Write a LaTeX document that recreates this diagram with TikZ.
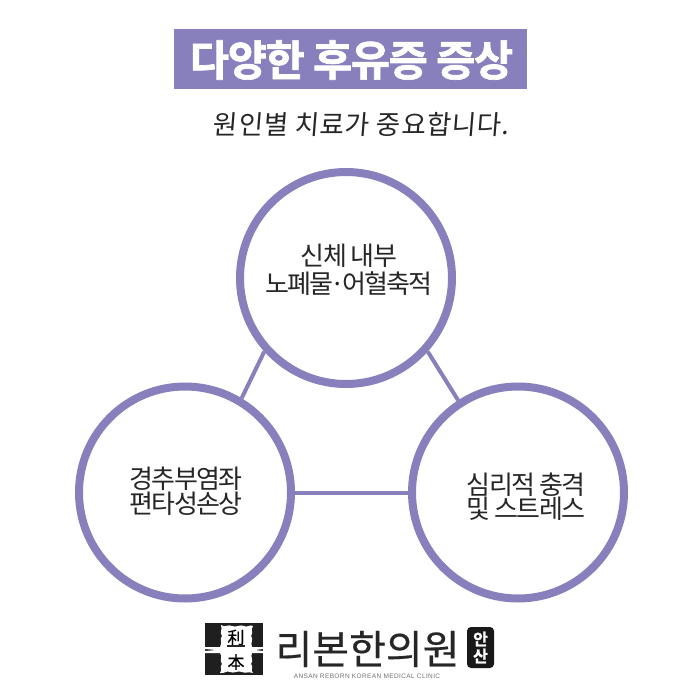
\documentclass[tikz,border=0pt]{standalone}
\usepackage{fontspec}
\setmainfont{Noto Sans CJK KR}
\newfontfamily\krtight[LetterSpace=-7]{Noto Sans CJK KR}
\newfontfamily\krbold[LetterSpace=-3,FakeBold=1.6]{Noto Sans CJK KR Bold}
\newfontfamily\krhand[FakeSlant=0.08,LetterSpace=3]{Noto Sans CJK KR}
\newfontfamily\krlogo[FakeBold=0.4]{Noto Sans CJK KR}
\newfontfamily\latinsm[LetterSpace=6]{Liberation Sans}
\definecolor{pur}{HTML}{8880BC}
\tikzset{
 ring/.style={circle,draw=pur,line width=8pt,fill=white,minimum size=212pt,inner sep=0pt},
 link/.style={draw=pur,line width=4pt},
 ringtext/.style={font=\krtight\fontsize{26}{26}\selectfont,text=black!85,align=center,inner sep=0pt},
}
\begin{document}
\begin{tikzpicture}[x=1pt,y=-1pt]
\useasboundingbox (0,0) rectangle (700,700);
\fill[white] (0,0) rectangle (700,700);
\node[fill=pur,minimum width=353pt,minimum height=60pt,inner sep=0pt] (title) at (350.5,59) {};
\node[text=white,font=\krbold\fontsize{42.5}{44}\selectfont,inner sep=0pt] (titlet) at (351.5,60) {다양한 후유증 증상};
\node[font=\krhand\fontsize{26.5}{28}\selectfont,text=black!85,inner sep=0pt] (hand) at (361,124) {원인별 치료가 중요합니다.};
\node[ring] (top) at (346,278) {};
\node[ring] (left) at (185,492.5) {};
\node[ring] (right) at (518,492.5) {};
\draw[link] (top.222.8) -- (left.59.7);
\draw[link] (top.-42) -- (right.123);
\draw[link] (left.0) -- (right.180);
\node[ringtext] (t1) at (349,270) {신체 내부\\[2pt]노폐물\hspace{-3pt}·\hspace{-3pt}어혈축적};
\node[ringtext] (t2) at (186,491.5) {경추부염좌\\[-1pt]편타성손상};
\node[ringtext] (t3) at (526,497) {심리적 충격\\[-2pt]및 스트레스};
% logo
\node[fill=black!88,minimum width=58pt,minimum height=52pt,inner sep=0pt] (seal) at (234,649) {};
\fill[white] (221,625) .. controls (225,628) and (228,624) .. (232,626)
 .. controls (236,628) and (240,624) .. (244,626)
 .. controls (247,628) and (250,624) .. (253,626)
 .. controls (250,630) and (254,632) .. (251,636)
 .. controls (254,639) and (250,642) .. (252,647)
 -- (263,647) -- (263,649) -- (255,650) -- (263,651) -- (263,653) -- (252,653)
 .. controls (250,657) and (254,660) .. (251,664)
 .. controls (254,667) and (250,670) .. (253,673)
 .. controls (248,671) and (246,674) .. (242,672)
 .. controls (238,670) and (234,674) .. (230,672)
 .. controls (227,670) and (224,674) .. (220,673)
 .. controls (223,669) and (219,667) .. (222,664)
 .. controls (219,660) and (223,657) .. (220,653)
 -- (205,653) -- (205,651) -- (216,650) -- (205,649) -- (205,647) -- (220,647)
 .. controls (223,642) and (219,639) .. (222,636)
 .. controls (219,632) and (223,630) .. (221,625) -- cycle;
\node[font=\krlogo\fontsize{17}{17}\selectfont,inner sep=0pt] (sa) at (236,637.5) {利};
\node[font=\krlogo\fontsize{17}{17}\selectfont,inner sep=0pt] (sb) at (236,662) {本};
\draw[line width=1.2pt,black!85] (sa.south west) ++(0,0.5) coordinate (ba) -- (ba -| sa.south east);
\node[font=\krlogo\fontsize{40}{40}\selectfont,text=black!85,inner sep=0pt] (logo) at (367.5,649) {리본한의원};
\node[fill=black!90,rounded corners=4pt,minimum width=27pt,minimum height=41pt,inner sep=0pt] (tag) at (480.5,647.5) {};
\node[font=\krbold\fontsize{16}{17}\selectfont,text=white,align=center,inner sep=0pt] (tagt) at (480.5,647.5) {안\\산};
\node[font=\latinsm\fontsize{6.5}{7}\selectfont,text=black!55,inner sep=0pt] (sub) at (367,676) {ANSAN REBORN KOREAN MEDICAL CLINIC};
\end{tikzpicture}
\end{document}
